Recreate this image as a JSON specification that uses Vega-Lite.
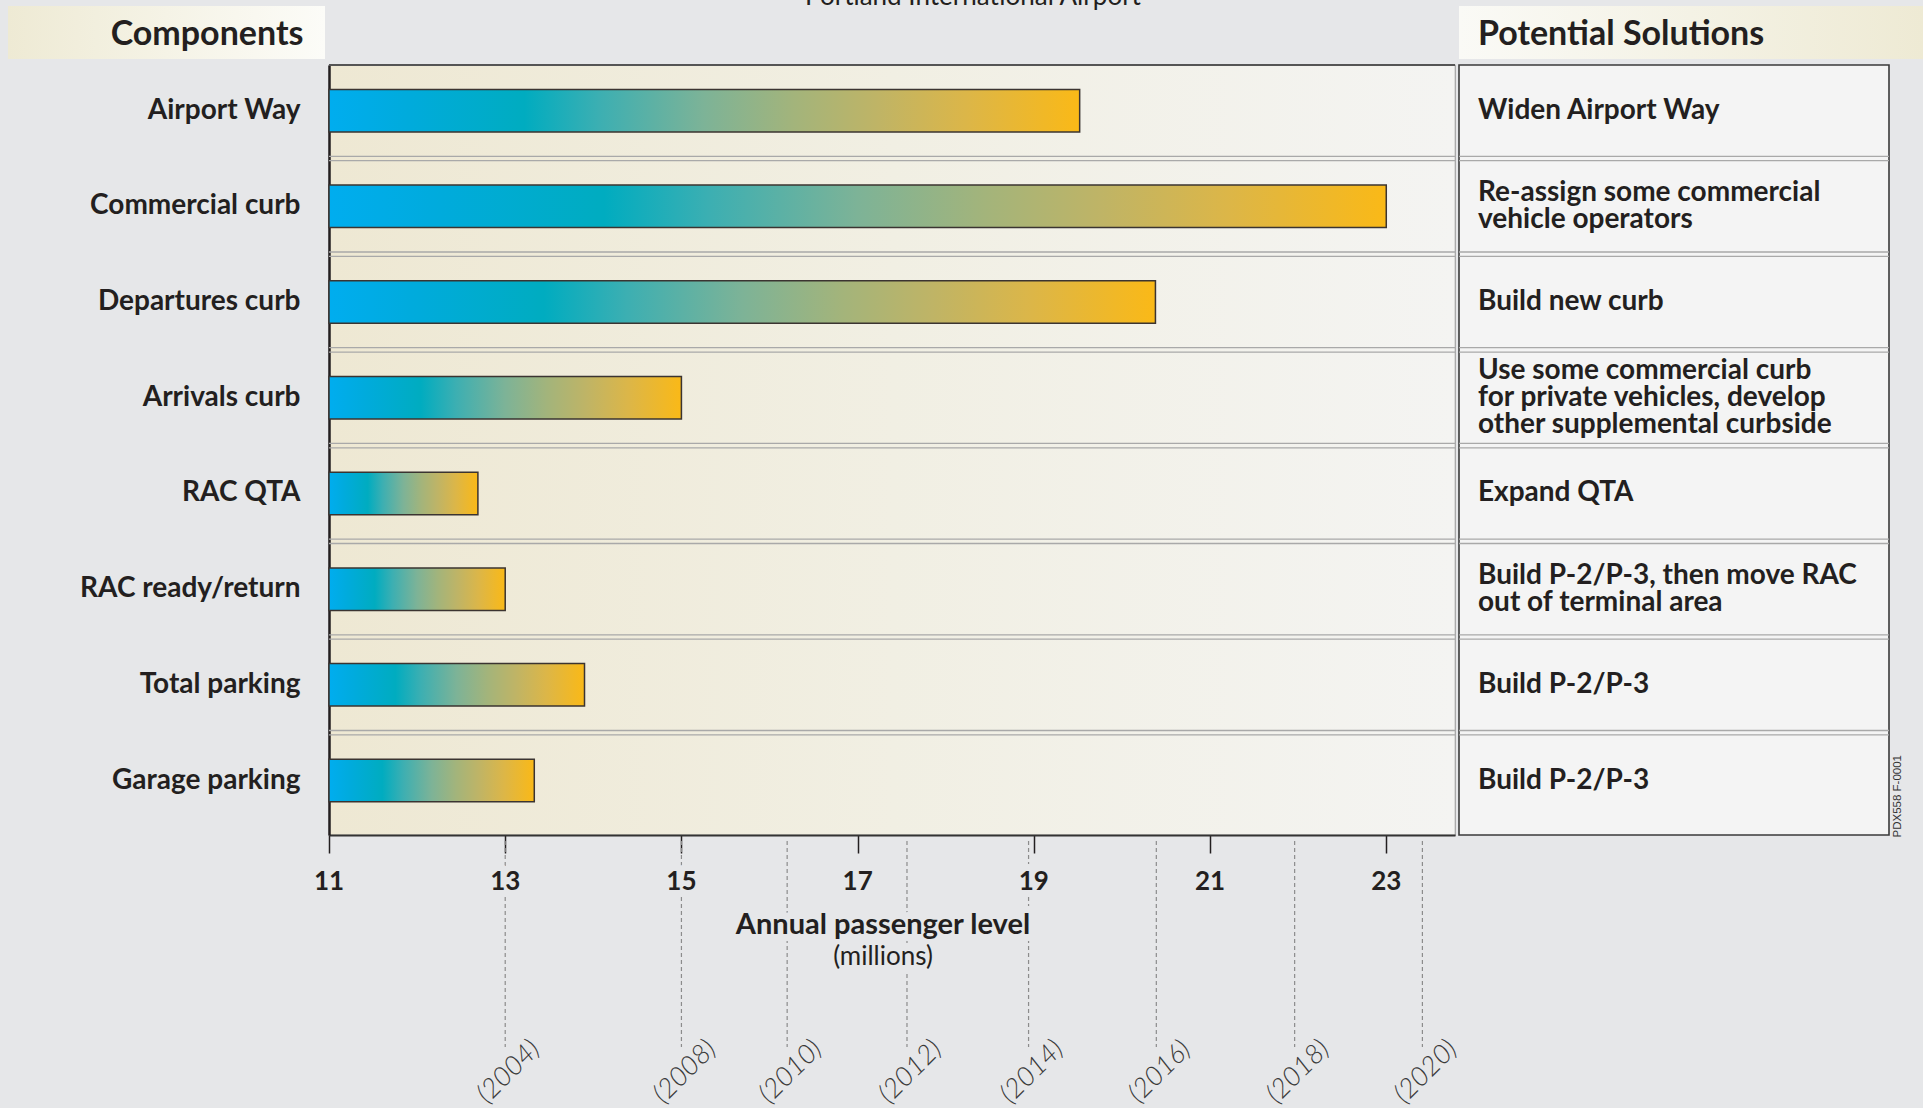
{
  "$schema": "https://vega.github.io/schema/vega-lite/v6.json",
  "background": "#e6e7e9",
  "padding": {"left": 8, "top": -16, "right": 0, "bottom": 0},
  "config": {"font": "Lato", "axis": {"grid": false}},
  "datasets": {
    "components": [
      {"component": "Airport Way", "passengers": 19.52, "solution": ["Widen Airport Way"]},
      {"component": "Commercial curb", "passengers": 23.0, "solution": ["Re-assign some commercial", "vehicle operators"]},
      {"component": "Departures curb", "passengers": 20.38, "solution": ["Build new curb"]},
      {"component": "Arrivals curb", "passengers": 15.0, "solution": ["Use some commercial curb", "for private vehicles, develop", "other supplemental curbside"]},
      {"component": "RAC QTA", "passengers": 12.69, "solution": ["Expand QTA"]},
      {"component": "RAC ready/return", "passengers": 13.0, "solution": ["Build P-2/P-3, then move RAC", "out of terminal area"]},
      {"component": "Total parking", "passengers": 13.9, "solution": ["Build P-2/P-3"]},
      {"component": "Garage parking", "passengers": 13.33, "solution": ["Build P-2/P-3"]}
    ],
    "years": [
      {"year": "(2004)", "passengers": 13},
      {"year": "(2008)", "passengers": 15},
      {"year": "(2010)", "passengers": 16.2},
      {"year": "(2012)", "passengers": 17.56},
      {"year": "(2014)", "passengers": 18.94},
      {"year": "(2016)", "passengers": 20.39},
      {"year": "(2018)", "passengers": 21.96},
      {"year": "(2020)", "passengers": 23.41}
    ],
    "ticks": [{"tick": 11}, {"tick": 13}, {"tick": 15}, {"tick": 17}, {"tick": 19}, {"tick": 21}, {"tick": 23}]
  },
  "columns": 3,
  "spacing": {"row": 6, "column": 4},
  "bounds": "flush",
  "concat": [
    {
      "width": 317, "height": 53,
      "data": {"values": [{"label": "Components"}]},
      "view": {"stroke": null, "fill": {"gradient": "linear", "stops": [{"offset": 0, "color": "#eeead4"}, {"offset": 1, "color": "#fcfcf8"}]}},
      "mark": {"type": "text", "align": "right", "baseline": "alphabetic", "dx": 137, "dy": 12.5, "fontSize": 34, "fontWeight": "bold", "color": "#231f20"},
      "encoding": {"text": {"field": "label"}}
    },
    {
      "width": 1126, "height": 53,
      "data": {"values": [{"label": "Portland International Airport"}]},
      "view": {"stroke": null},
      "mark": {"type": "text", "align": "center", "baseline": "alphabetic", "dx": 81, "dy": -27.5, "fontSize": 26, "fontWeight": "normal", "color": "#231f20"},
      "encoding": {"text": {"field": "label"}}
    },
    {
      "width": 464, "height": 53,
      "data": {"values": [{"label": "Potential Solutions"}]},
      "view": {"stroke": null, "fill": {"gradient": "linear", "stops": [{"offset": 0, "color": "#fafaf6"}, {"offset": 1, "color": "#eeead4"}]}},
      "mark": {"type": "text", "align": "left", "baseline": "alphabetic", "dx": -213, "dy": 12.5, "fontSize": 34, "fontWeight": "bold", "color": "#231f20"},
      "encoding": {"text": {"field": "label"}}
    },
    {
      "width": 317, "height": 770,
      "data": {"values": [{"label": ""}]},
      "view": {"stroke": null},
      "mark": {"type": "text"},
      "encoding": {"text": {"field": "label"}}
    },
    {
      "width": 1126, "height": 770,
      "data": {"name": "components"},
      "view": {"stroke": "#a3a3a3", "strokeWidth": 1.2, "fill": {"gradient": "linear", "stops": [{"offset": 0, "color": "#eee8d3"}, {"offset": 0.5, "color": "#f1efe3"}, {"offset": 1, "color": "#f4f4f2"}]}},
      "layer": [
        {
          "mark": {"type": "bar", "stroke": "#3b3431", "strokeWidth": 1.5,
            "fill": {"gradient": "linear", "stops": [
              {"offset": 0, "color": "#00adef"}, {"offset": 0.1, "color": "#00abdd"}, {"offset": 0.26, "color": "#00acc0"},
              {"offset": 0.36, "color": "#3cafb2"}, {"offset": 0.5, "color": "#7db397"}, {"offset": 0.62, "color": "#a3b47b"},
              {"offset": 0.73, "color": "#bfb466"}, {"offset": 0.85, "color": "#dcb648"}, {"offset": 1, "color": "#fab917"}]}},
          "encoding": {
            "y": {"field": "component", "type": "nominal", "sort": null,
              "scale": {"domain": ["Airport Way", "Commercial curb", "Departures curb", "Arrivals curb", "RAC QTA", "RAC ready/return", "Total parking", "Garage parking"], "paddingInner": 0.046, "paddingOuter": 0.046, "align": 0},
              "axis": {"orient": "left", "title": null, "domainColor": "#231f20", "domainWidth": 2.5, "ticks": false,
                "labelFont": "Lato", "labelFontSize": 28, "labelFontWeight": "bold", "labelColor": "#231f20", "labelPadding": 29, "labelLimit": 0}},
            "x": {"field": "passengers", "type": "quantitative",
              "scale": {"domain": [11, 23.78], "nice": false, "zero": false},
              "axis": {"orient": "bottom", "values": [11, 13, 15, 17, 19, 21, 23], "domainColor": "#333333", "domainWidth": 2,
                "tickColor": "#231f20", "tickSize": 18, "tickWidth": 1.5, "labels": false, "title": null}},
            "x2": {"datum": 11},
            "size": {"value": 42.5}
          }
        },
        {
          "transform": [{"filter": "datum.component != 'Airport Way'"}],
          "mark": {"type": "rule", "color": "#a9a9a9", "strokeWidth": 1.3},
          "encoding": {"y": {"field": "component", "type": "nominal", "sort": null, "bandPosition": 0,
            "axis": {"orient": "left", "title": null, "domainColor": "#231f20", "domainWidth": 2.5, "ticks": false,
              "labelFont": "Lato", "labelFontSize": 28, "labelFontWeight": "bold", "labelColor": "#231f20", "labelPadding": 29, "labelLimit": 0}}}
        },
        {
          "transform": [{"filter": "datum.component != 'Garage parking'"}],
          "mark": {"type": "rule", "color": "#a9a9a9", "strokeWidth": 1.3},
          "encoding": {"y": {"field": "component", "type": "nominal", "sort": null, "bandPosition": 1,
            "axis": {"orient": "left", "title": null, "domainColor": "#231f20", "domainWidth": 2.5, "ticks": false,
              "labelFont": "Lato", "labelFontSize": 28, "labelFontWeight": "bold", "labelColor": "#231f20", "labelPadding": 29, "labelLimit": 0}}}
        },
        {
          "transform": [{"filter": "datum.component == 'Airport Way'"}],
          "mark": {"type": "rule", "color": "#555555", "strokeWidth": 1.8},
          "encoding": {"y": {"field": "component", "type": "nominal", "sort": null, "bandPosition": 0,
            "axis": {"orient": "left", "title": null, "domainColor": "#231f20", "domainWidth": 2.5, "ticks": false,
              "labelFont": "Lato", "labelFontSize": 28, "labelFontWeight": "bold", "labelColor": "#231f20", "labelPadding": 29, "labelLimit": 0}}}
        }
      ]
    },
    {
      "width": 430, "height": 770,
      "data": {"name": "components"},
      "view": {"fill": "#f4f4f4", "stroke": "#3a3a3a", "strokeWidth": 1.6},
      "layer": [
        {
          "transform": [{"filter": "length(datum.solution) == 1"}],
          "mark": {"type": "text", "align": "left", "baseline": "middle", "dx": -196, "fontSize": 28, "fontWeight": "bold", "lineHeight": 27, "color": "#231f20"},
          "encoding": {
            "y": {"field": "component", "type": "nominal", "sort": null,
              "scale": {"domain": ["Airport Way", "Commercial curb", "Departures curb", "Arrivals curb", "RAC QTA", "RAC ready/return", "Total parking", "Garage parking"], "paddingInner": 0.046, "paddingOuter": 0.046, "align": 0},
              "axis": {"orient": "right", "domain": false, "ticks": false, "labels": false,
                "title": "PDX558 F-0001", "titleFont": "Liberation Sans", "titleFontSize": 11.5, "titleFontWeight": "normal",
                "titleAngle": 270, "titleAlign": "left", "titleBaseline": "top", "titleX": 2, "titleY": 772, "titleColor": "#333333"}},
            "text": {"field": "solution"}
          }
        },
        {
          "transform": [{"filter": "length(datum.solution) == 2"}],
          "mark": {"type": "text", "align": "left", "baseline": "middle", "dx": -196, "dy": -13.5, "fontSize": 28, "fontWeight": "bold", "lineHeight": 27, "color": "#231f20"},
          "encoding": {
            "y": {"field": "component", "type": "nominal", "sort": null,
              "axis": {"orient": "right", "domain": false, "ticks": false, "labels": false,
                "title": "PDX558 F-0001", "titleFont": "Liberation Sans", "titleFontSize": 11.5, "titleFontWeight": "normal",
                "titleAngle": 270, "titleAlign": "left", "titleBaseline": "top", "titleX": 2, "titleY": 772, "titleColor": "#333333"}},
            "text": {"field": "solution"}
          }
        },
        {
          "transform": [{"filter": "length(datum.solution) == 3"}],
          "mark": {"type": "text", "align": "left", "baseline": "middle", "dx": -196, "dy": -27, "fontSize": 28, "fontWeight": "bold", "lineHeight": 27, "color": "#231f20"},
          "encoding": {
            "y": {"field": "component", "type": "nominal", "sort": null,
              "axis": {"orient": "right", "domain": false, "ticks": false, "labels": false,
                "title": "PDX558 F-0001", "titleFont": "Liberation Sans", "titleFontSize": 11.5, "titleFontWeight": "normal",
                "titleAngle": 270, "titleAlign": "left", "titleBaseline": "top", "titleX": 2, "titleY": 772, "titleColor": "#333333"}},
            "text": {"field": "solution"}
          }
        },
        {
          "transform": [{"filter": "datum.component != 'Airport Way'"}],
          "mark": {"type": "rule", "color": "#a9a9a9", "strokeWidth": 1.3},
          "encoding": {"y": {"field": "component", "type": "nominal", "sort": null, "bandPosition": 0,
            "axis": {"orient": "right", "domain": false, "ticks": false, "labels": false,
              "title": "PDX558 F-0001", "titleFont": "Liberation Sans", "titleFontSize": 11.5, "titleFontWeight": "normal",
              "titleAngle": 270, "titleAlign": "left", "titleBaseline": "top", "titleX": 2, "titleY": 772, "titleColor": "#333333"}}}
        },
        {
          "transform": [{"filter": "datum.component != 'Garage parking'"}],
          "mark": {"type": "rule", "color": "#a9a9a9", "strokeWidth": 1.3},
          "encoding": {"y": {"field": "component", "type": "nominal", "sort": null, "bandPosition": 1,
            "axis": {"orient": "right", "domain": false, "ticks": false, "labels": false,
              "title": "PDX558 F-0001", "titleFont": "Liberation Sans", "titleFontSize": 11.5, "titleFontWeight": "normal",
              "titleAngle": 270, "titleAlign": "left", "titleBaseline": "top", "titleX": 2, "titleY": 772, "titleColor": "#333333"}}}
        }
      ]
    },
    {
      "width": 317, "height": 206,
      "data": {"values": [{"label": ""}]},
      "view": {"stroke": null},
      "mark": {"type": "text"},
      "encoding": {"text": {"field": "label"}}
    },
    {
      "width": 1126, "height": 206,
      "view": {"stroke": null},
      "layer": [
        {
          "data": {"name": "years"},
          "mark": {"type": "rule", "strokeDash": [4, 3], "color": "#8c8c8c", "strokeWidth": 1.2},
          "encoding": {"x": {"field": "passengers", "type": "quantitative", "scale": {"domain": [11, 23.78], "nice": false, "zero": false}, "axis": null}}
        },
        {
          "data": {"name": "ticks"},
          "mark": {"type": "text", "baseline": "middle", "dy": -62, "fontSize": 26, "fontWeight": "bold", "fill": "#e6e7e9", "stroke": "#e6e7e9", "strokeWidth": 14, "strokeJoin": "round"},
          "encoding": {
            "x": {"field": "tick", "type": "quantitative", "scale": {"domain": [11, 23.78], "nice": false, "zero": false}, "axis": null},
            "text": {"field": "tick", "type": "quantitative", "format": "d"}
          }
        },
        {
          "data": {"name": "ticks"},
          "mark": {"type": "text", "baseline": "middle", "dy": -62, "fontSize": 26, "fontWeight": "bold", "color": "#231f20"},
          "encoding": {
            "x": {"field": "tick", "type": "quantitative", "scale": {"domain": [11, 23.78], "nice": false, "zero": false}, "axis": null},
            "text": {"field": "tick", "type": "quantitative", "format": "d"}
          }
        },
        {
          "data": {"values": [{"t": "Annual passenger level"}]},
          "mark": {"type": "text", "baseline": "alphabetic", "dx": -9, "dy": -10, "fontSize": 29, "fontWeight": "bold", "fill": "#e6e7e9", "stroke": "#e6e7e9", "strokeWidth": 14, "strokeJoin": "round"},
          "encoding": {"text": {"field": "t"}}
        },
        {
          "data": {"values": [{"t": "(millions)"}]},
          "mark": {"type": "text", "baseline": "alphabetic", "dx": -9, "dy": 21, "fontSize": 26, "fontWeight": "normal", "fill": "#e6e7e9", "stroke": "#e6e7e9", "strokeWidth": 14, "strokeJoin": "round"},
          "encoding": {"text": {"field": "t"}}
        },
        {
          "data": {"values": [{"t": "Annual passenger level"}]},
          "mark": {"type": "text", "baseline": "alphabetic", "dx": -9, "dy": -10, "fontSize": 29, "fontWeight": "bold", "color": "#231f20"},
          "encoding": {"text": {"field": "t"}}
        },
        {
          "data": {"values": [{"t": "(millions)"}]},
          "mark": {"type": "text", "baseline": "alphabetic", "dx": -9, "dy": 21, "fontSize": 26, "fontWeight": "normal", "color": "#231f20"},
          "encoding": {"text": {"field": "t"}}
        },
        {
          "data": {"name": "years"},
          "mark": {"type": "text", "angle": 315, "align": "center", "baseline": "middle", "dx": -88, "dy": 93,
            "fontSize": 27, "fontWeight": 300, "fontStyle": "italic", "color": "#3a3a3a"},
          "encoding": {
            "x": {"field": "passengers", "type": "quantitative", "scale": {"domain": [11, 23.78], "nice": false, "zero": false}, "axis": null},
            "text": {"field": "year"}
          }
        }
      ]
    }
  ]
}
